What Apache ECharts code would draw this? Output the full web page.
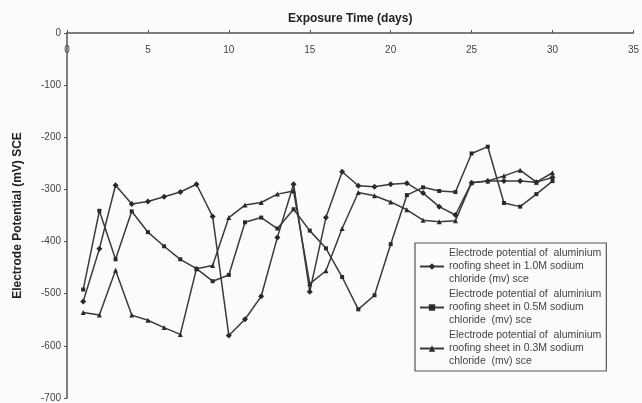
<!DOCTYPE html>
<html><head><meta charset="utf-8">
<script src="https://cdn.jsdelivr.net/npm/echarts@6/dist/echarts.min.js"></script>
<style>html,body{margin:0;padding:0;background:#fbfbfa}#c{width:642px;height:403px}</style>
</head><body><div id="c"></div>
<script>
const days = [1,2,3,4,5,6,7,8,9,10,11,12,13,14,15,16,17,18,19,20,21,22,23,24,25,26,27,28,29,30];
const s10M = [-515,-414,-292,-328,-323,-314,-305,-290,-352,-580,-549,-505,-392,-290,-496,-354,-266,-293,-295,-290,-288,-307,-333,-349,-287,-284,-284,-284,-286,-277];
const s05M = [-492,-341,-434,-342,-382,-409,-434,-452,-476,-464,-363,-354,-375,-338,-379,-413,-468,-530,-503,-405,-311,-296,-303,-305,-231,-218,-326,-333,-309,-284];
const s03M = [-536,-541,-455,-541,-551,-565,-578,-452,-446,-354,-330,-325,-309,-303,-481,-456,-375,-306,-312,-324,-339,-359,-362,-360,-287,-284,-274,-263,-286,-268];
const names = [
  'Electrode potential of  aluminium\nroofing sheet in 1.0M sodium\nchloride (mv) sce',
  'Electrode potential of  aluminium\nroofing sheet in 0.5M sodium\nchloride  (mv) sce',
  'Electrode potential of  aluminium\nroofing sheet in 0.3M sodium\nchloride  (mv) sce'
];
const yTicks = {min:-700, max:0, interval:100};
const xTicks = {min:0, max:35, interval:5};

const pair = arr => days.map((d,i)=>[d, arr[i]]);
const lineCol = '#3a3a3a';
function mk(name, data, symbol, size){
  return {name, type:'line', data:pair(data), symbol, symbolSize:size,
    lineStyle:{color:lineCol, width:1.5}, itemStyle:{color:'#2a2a2a'}, z:3};
}
const chart = echarts.init(document.getElementById('c'));
chart.setOption({
  backgroundColor:'#fbfbfa',
  animation:false,
  textStyle:{fontFamily:'Liberation Sans, Arial, sans-serif'},
  grid:{left:67, right:2, top:33, bottom:3},
  xAxis:{type:'value', position:'top', min:xTicks.min, max:xTicks.max, interval:xTicks.interval,
    name:'Exposure Time (days)', nameLocation:'middle', nameGap:8,
    nameTextStyle:{fontWeight:'bold', fontSize:12, color:'#222'},
    axisLine:{lineStyle:{color:'#555', width:1.5}},
    axisTick:{show:true, inside:false, length:3, lineStyle:{color:'#555'}},
    axisLabel:{inside:true, margin:12, fontSize:10, color:'#444', showMaxLabel:true},
    splitLine:{show:false}},
  yAxis:{type:'value', min:yTicks.min, max:yTicks.max, interval:yTicks.interval,
    name:'Electrode Potential (mV) SCE', nameLocation:'middle', nameGap:43, nameRotate:90,
    nameTextStyle:{fontWeight:'bold', fontSize:12, color:'#222'},
    axisLine:{show:true, lineStyle:{color:'#555', width:1.5}},
    axisTick:{show:true, length:3, lineStyle:{color:'#555'}},
    axisLabel:{fontSize:10, color:'#444', margin:6},
    splitLine:{show:false}},
  legend:{orient:'vertical', left:415, top:243,
    backgroundColor:'#fbfbfa', borderColor:'#555', borderWidth:1.2,
    padding:[5,5,4,4], itemGap:4, itemWidth:24, itemHeight:8,
    textStyle:{fontSize:10.5, color:'#444', lineHeight:13, verticalAlign:'top', padding:[-5,0,0,0]},
    data:names},
  series:[mk(names[0], s10M, 'diamond', 6), mk(names[1], s05M, 'rect', 4), mk(names[2], s03M, 'triangle', 5)]
});
</script></body></html>
